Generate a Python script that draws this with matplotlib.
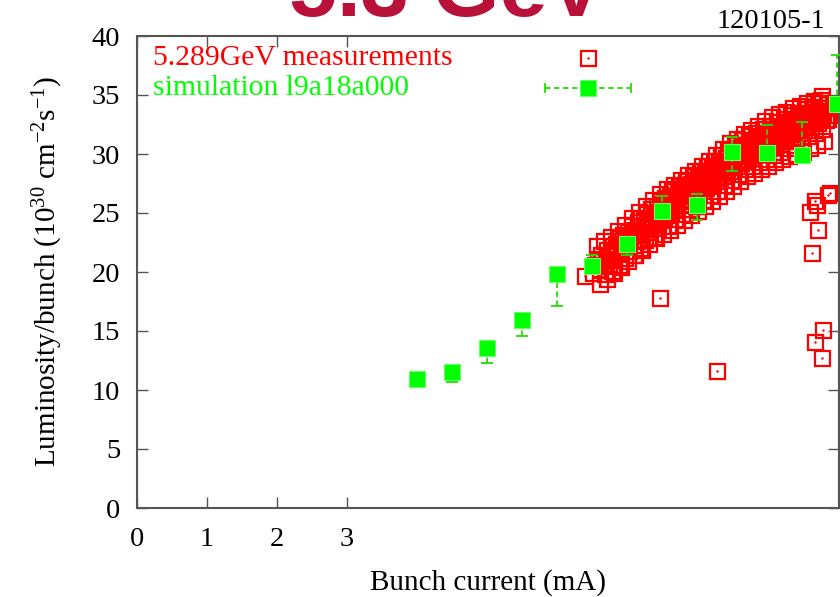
import matplotlib
matplotlib.use("Agg")
import matplotlib.pyplot as plt

plt.rcParams["font.family"] = ["Liberation Serif", "DejaVu Serif"]
plt.rcParams["mathtext.fontset"] = "custom"
plt.rcParams["mathtext.rm"] = "Liberation Serif"
plt.rcParams["mathtext.default"] = "regular"

# measured luminosity per bunch, 5.289 GeV run (bunch current mA, 1e30 cm^-2 s^-1)
meas_x = [
    6.52, 6.55, 6.58, 6.61, 6.63, 6.66, 6.68, 6.70,
    6.72, 6.74, 6.77, 6.79, 6.80, 6.82, 6.84, 6.86, 6.88, 6.90,
    6.91, 6.93, 6.95, 6.97, 6.99, 7.01, 7.03, 7.05, 7.07, 7.09, 7.10,
    7.12, 7.14, 7.16, 7.18, 7.19, 7.20, 7.22, 7.24, 7.26, 7.27, 7.29, 7.30,
    7.32, 7.33, 7.35, 7.37, 7.38, 7.40, 7.42, 7.43, 7.45, 7.47, 7.48, 7.50,
    7.52, 7.53, 7.55, 7.57, 7.58, 7.60, 7.62, 7.63, 7.65, 7.67, 7.68, 7.70,
    7.72, 7.73, 7.75, 7.77, 7.78, 7.80, 7.82, 7.83, 7.85, 7.87, 7.88, 7.90,
    7.92, 7.93, 7.95, 7.97, 7.98, 8.00, 8.02, 8.03, 8.05, 8.07, 8.08, 8.10,
    8.12, 8.13, 8.15, 8.17, 8.18, 8.20, 8.22, 8.23, 8.25, 8.27, 8.28, 8.30,
    8.32, 8.33, 8.35, 8.37, 8.38, 8.40, 8.42, 8.43, 8.45, 8.47, 8.48, 8.50,
    8.52, 8.53, 8.55, 8.57, 8.58, 8.60, 8.62, 8.63, 8.65, 8.67, 8.68, 8.70,
    8.72, 8.73, 8.75, 8.77, 8.78, 8.80, 8.82, 8.83, 8.85, 8.87, 8.88, 8.90,
    8.92, 8.93, 8.95, 8.97, 8.98, 9.00, 9.02, 9.03, 9.05, 9.07, 9.08, 9.10,
    9.12, 9.13, 9.15, 9.17, 9.18, 9.20, 9.22, 9.23, 9.25, 9.27, 9.28, 9.30,
    9.32, 9.33, 9.35, 9.37, 9.38, 9.40, 9.42, 9.43, 9.45, 9.47, 9.48, 9.50,
    9.52, 9.53, 9.55, 9.57, 9.58, 9.60, 9.62, 9.63, 9.65, 9.67, 9.68, 9.70,
    9.72, 9.73, 9.75, 9.77, 9.78, 9.80, 9.82, 9.84, 9.86, 9.88,
    # upper / lower edge of the band
    6.57, 6.62, 6.67, 6.72, 6.77, 6.82, 6.87, 6.92, 6.97, 7.02, 7.07, 7.12,
    7.17, 7.22, 7.27, 7.32, 7.37, 7.42, 7.47, 7.52, 7.57, 7.62, 7.67, 7.72,
    7.77, 7.82, 7.87, 7.92, 7.97, 8.02, 8.07, 8.12, 8.17, 8.22, 8.27, 8.32,
    8.37, 8.42, 8.47, 8.52, 8.57, 8.62, 8.67, 8.72, 8.77, 8.82, 8.87, 8.92,
    8.97, 9.02, 9.07, 9.12, 9.17, 9.22, 9.27, 9.32, 9.37, 9.42, 9.47, 9.52,
    9.57, 9.62, 9.67, 9.72, 9.77, 9.82,
    # middle of the band
    6.64, 6.75, 6.85, 6.95, 7.05, 7.15, 7.25, 7.35, 7.45, 7.55, 7.65, 7.75,
    7.85, 7.95, 8.05, 8.15, 8.25, 8.35, 8.45, 8.55, 8.65, 8.75, 8.85, 8.95,
    9.05, 9.15, 9.25, 9.35, 9.45, 9.55, 9.65, 9.75,
    # scattered points away from the band
    6.40, 7.47, 8.29, 9.64, 9.80, 9.69, 9.79, 9.73, 9.61, 9.87, 9.71,
    9.73, 9.87, 9.78, 9.90, 9.68,
]
meas_y = [
    19.9, 20.6, 21.1, 20.2, 21.4, 20.5, 19.8, 21.0,
    21.9, 20.7, 21.5, 20.1, 22.2, 21.0, 22.4, 21.7, 20.6, 22.9,
    21.5, 22.6, 23.1, 21.2, 22.2, 23.4, 21.8, 22.7, 23.9, 22.3, 21.4,
    23.6, 22.6, 24.2, 23.1, 22.0, 24.6, 23.2, 24.4, 22.7, 23.8, 24.9, 22.9,
    24.5, 23.4, 25.3, 24.0, 23.0, 25.0, 24.2, 25.6, 23.7, 24.9, 26.0, 24.4,
    25.8, 24.6, 26.3, 25.1, 23.9, 25.5, 26.4, 25.0, 26.9, 25.7, 24.5, 26.1,
    25.4, 26.8, 27.3, 26.0, 24.9, 26.5, 27.1, 25.8, 27.7, 26.4, 25.3, 26.9,
    27.5, 26.2, 28.1, 26.8, 25.6, 27.3, 28.0, 26.7, 28.6, 27.2, 26.1, 27.8,
    28.4, 27.1, 29.0, 27.6, 26.5, 28.2, 28.8, 27.5, 29.4, 28.0, 26.9, 28.6,
    29.3, 28.0, 29.9, 28.5, 27.4, 29.1, 29.7, 28.4, 30.3, 28.9, 27.8, 29.5,
    30.2, 28.9, 30.8, 29.4, 28.3, 30.0, 30.5, 29.2, 31.2, 29.8, 28.7, 30.3,
    30.8, 29.6, 31.5, 30.1, 29.0, 30.6, 31.1, 29.9, 31.8, 30.4, 29.3, 30.9,
    31.4, 30.2, 32.1, 30.7, 29.6, 31.2, 31.7, 30.5, 32.4, 31.0, 29.9, 31.5,
    32.0, 30.8, 32.7, 31.3, 30.2, 31.8, 32.3, 31.1, 33.0, 31.6, 30.5, 32.1,
    32.6, 31.4, 33.3, 31.9, 30.8, 32.4, 32.8, 31.7, 33.5, 32.2, 31.2, 32.7,
    33.1, 32.0, 33.8, 32.5, 31.5, 33.0, 33.4, 32.3, 34.0, 32.8, 31.8, 33.3,
    33.6, 32.6, 34.3, 33.1, 32.1, 33.5, 33.9, 32.9, 34.2, 33.3,
    22.2, 19.0, 22.6, 19.4, 23.0, 19.9, 23.5, 20.4, 24.0, 20.9, 24.6, 21.4,
    25.1, 21.9, 25.6, 22.4, 26.1, 22.9, 26.6, 23.2, 27.0, 23.6, 27.4, 24.0,
    27.8, 24.4, 28.2, 24.8, 28.6, 25.2, 29.0, 25.6, 29.4, 26.0, 29.9, 26.4,
    30.4, 26.9, 30.9, 27.3, 31.3, 27.7, 31.7, 28.1, 32.0, 28.4, 32.4, 28.7,
    32.8, 29.0, 33.1, 29.3, 33.4, 29.6, 33.6, 29.8, 33.9, 30.0, 34.1, 30.2,
    34.3, 30.5, 34.5, 30.8, 34.6, 31.1,
    20.9, 21.4, 22.0, 22.4, 23.0, 23.5, 24.0, 24.6, 25.1, 25.5, 26.0, 26.4,
    26.8, 27.3, 27.7, 28.1, 28.5, 28.9, 29.3, 29.8, 30.2, 30.5, 30.8, 31.1,
    31.4, 31.7, 32.0, 32.3, 32.6, 32.8, 33.1, 33.3,
    19.7, 17.8, 11.6, 21.6, 15.1, 14.1, 12.7, 23.6, 25.1, 26.5, 25.7,
    34.3, 33.0, 34.9, 26.7, 26.0,
]

# simulation l9a18a000 with lower / upper error limits
sim_x = [4.0, 4.5, 5.0, 5.5, 6.0, 6.5, 7.0, 7.5, 8.0, 8.5, 9.0, 9.5, 10.0]
sim_y = [10.9, 11.5, 13.6, 15.9, 19.8, 20.5, 22.4, 25.2, 25.7, 30.2, 30.1, 29.9, 34.2]
sim_lo = [10.9, 10.7, 12.3, 14.6, 17.1, 20.5, 21.4, 25.2, 24.4, 28.6, 30.1, 29.9, 34.2]
sim_hi = [10.9, 11.5, 13.6, 15.9, 19.8, 21.4, 22.4, 26.4, 26.6, 31.4, 32.5, 32.7, 38.4]

x_ticks = [0, 1, 2, 3]
y_ticks = [0, 5, 10, 15, 20, 25, 30, 35, 40]

RED = "#ff0000"
GREEN = "#00ff00"
EBAR = "#22dd00"
AXC = "#555555"
FS = 21

fig = plt.figure(figsize=(8.40, 5.97), dpi=100)
ax = fig.add_axes([137 / 840, 89 / 597, 702 / 840, 472 / 597])

# measurements: open squares with a small centre dot
ax.plot(meas_x, meas_y, ls="none", marker="s", ms=10.8, mfc="none",
        mec=RED, mew=1.6, zorder=2)
ax.plot(meas_x, meas_y, ls="none", marker=".", ms=1.5, color=RED, zorder=2)

# simulation: filled squares with dashed error bars
err_lo = [y - lo for y, lo in zip(sim_y, sim_lo)]
err_hi = [hi - y for y, hi in zip(sim_y, sim_hi)]
eb = ax.errorbar(sim_x, sim_y, yerr=[err_lo, err_hi], fmt="none",
                 ecolor=EBAR, elinewidth=1.3, capsize=4, capthick=1.3, zorder=3)
for lc in eb[2]:
    lc.set_linestyle((0, (3, 2)))
ax.plot(sim_x, sim_y, ls="none", marker="s", ms=11.5, color=GREEN,
        mec="#66ff66", mew=0.8, zorder=4)

# key drawn inside the frame
ax.text(0.023, 0.9534, "5.289GeV measurements", color=RED, fontsize=21.3,
        transform=ax.transAxes, va="center", ha="left")
ax.text(0.023, 0.8898, "simulation l9a18a000", color=GREEN, fontsize=21.3,
        transform=ax.transAxes, va="center", ha="left")
ax.plot([0.6425], [0.9534], transform=ax.transAxes, ls="none", marker="s",
        ms=10.8, mfc="none", mec=RED, mew=1.6)
ax.plot([0.6425], [0.9534], transform=ax.transAxes, ls="none", marker=".",
        ms=1.5, color=RED)
ax.plot([0.581, 0.7037], [0.8898, 0.8898], transform=ax.transAxes,
        color=EBAR, lw=1.3, ls=(0, (3, 2)))
for xe in (0.581, 0.7037):
    ax.plot([xe, xe], [0.881, 0.8986], transform=ax.transAxes, color=EBAR, lw=1.3)
ax.plot([0.6425], [0.8898], transform=ax.transAxes, ls="none", marker="s",
        ms=11.5, color=GREEN, mec="#66ff66", mew=0.8)

ax.set_xlim(0, 10.03)
ax.set_ylim(0, 40)
ax.set_xticks(x_ticks)
ax.set_xticklabels([str(t) for t in x_ticks])
ax.set_yticks(y_ticks)
ax.tick_params(direction="in", top=True, right=True, length=8, width=1,
               color=AXC, labelsize=20.5)
ax.tick_params(axis="x", pad=14)
ax.tick_params(axis="y", pad=12)
for s in ax.spines.values():
    s.set_color(AXC)
    s.set_linewidth(1.5)

ax.set_xlabel("Bunch current (mA)", fontsize=FS, labelpad=12)
ax.set_ylabel("Luminosity/bunch (10$^{30}$ cm$^{-2}$s$^{-1}$)", fontsize=FS,
              labelpad=19)

fig.text(825 / 840, 1 - 22 / 597, "120105-1", fontsize=20.5, ha="right", va="center")
fig.text(447 / 840, 1 - 16 / 597, "5.3 GeV", fontsize=62, fontweight="bold",
         family="Liberation Sans", color="#b8123a", ha="center", va="baseline")

fig.savefig("out.png", dpi=100)
